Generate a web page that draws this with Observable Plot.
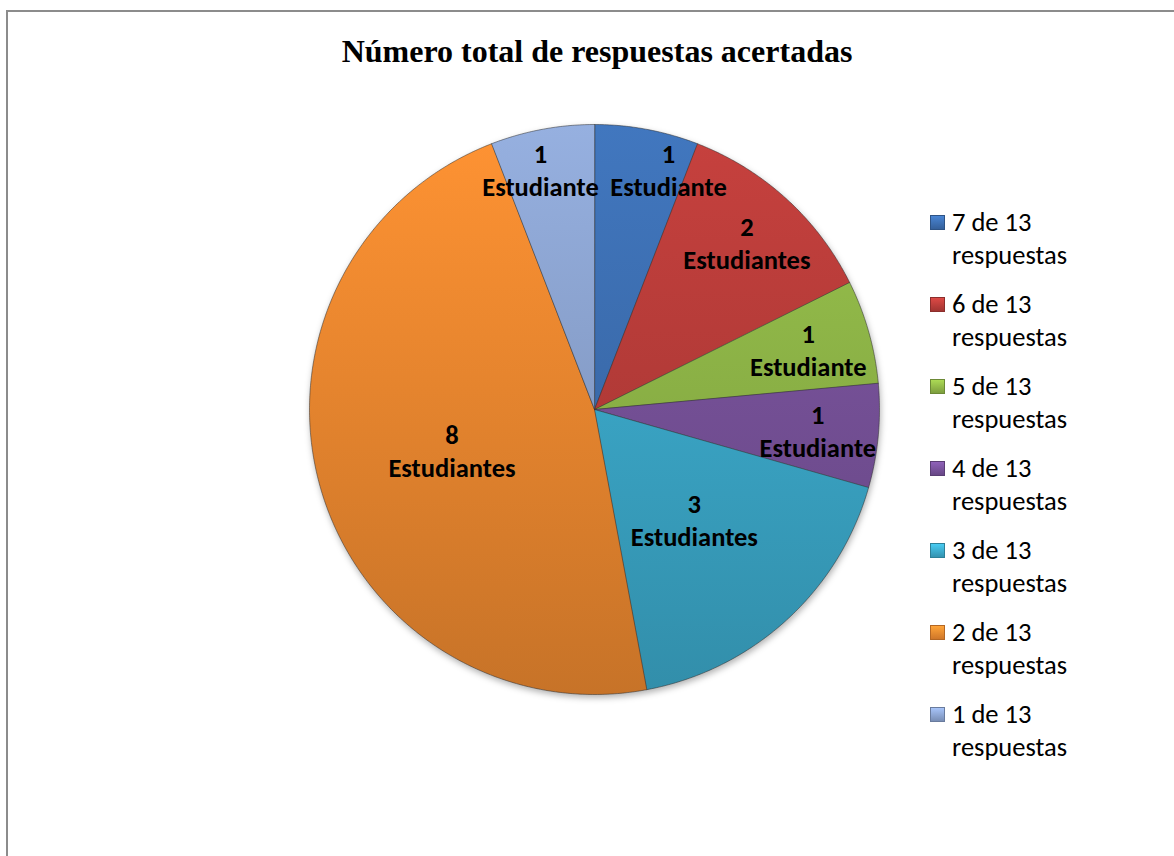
<!DOCTYPE html>
<html>
<head>
<meta charset="utf-8">
<script src="https://cdn.jsdelivr.net/npm/d3@7"></script>
<script src="https://cdn.jsdelivr.net/npm/@observablehq/plot@0.6"></script>
<style>
  html, body { margin: 0; padding: 0; background: #fff; overflow: hidden; }
  #wrap { position: relative; width: 1174px; height: 856px; overflow: hidden; }
  #frame { position: absolute; left: 6px; top: 10px; width: 1300px; height: 1000px;
           border-left: 2px solid #8c8c8c; border-top: 2px solid #8c8c8c; }
  #title { position: absolute; left: 0; top: 35px; width: 1194px; text-align: center;
           font-family: "Liberation Serif", "Times New Roman", serif; font-weight: bold;
           font-size: 32px; line-height: 32px; color: #000; }
  #chart { position: absolute; left: 0; top: 0; }
  #legend { position: absolute; left: 930px; top: 206px;
            font-family: Carlito, Calibri, Lato, sans-serif; font-size: 26.5px; color: #000; }
  .item { display: flex; align-items: flex-start; margin-bottom: 16px; }
  .sw { width: 15px; height: 15px; margin-top: 9px; margin-right: 7px; box-sizing: border-box; flex: none; }
  .txt { line-height: 33px; }
</style>
</head>
<body>
<div id="wrap">
  <div id="frame"></div>
  <div id="title">Número total de respuestas acertadas</div>
  <div id="chart"></div>
  <div id="legend"></div>
</div>
<svg width="0" height="0" style="position:absolute"><defs id="defs"></defs></svg>
<script>
// ---- data ----
const categories = ["7 de 13 respuestas", "6 de 13 respuestas", "5 de 13 respuestas",
                    "4 de 13 respuestas", "3 de 13 respuestas", "2 de 13 respuestas",
                    "1 de 13 respuestas"];
const students = [1, 2, 1, 1, 3, 8, 1];
const colors = ["#3f73b8", "#c03f3c", "#95bd4a", "#7c55a0", "#3eb0d2", "#f78e31", "#91aad8"];
const unitSingular = "Estudiante";
const unitPlural = "Estudiantes";

// ---- gradients ----
const defs = document.getElementById("defs");
const pieTop = 124, pieBottom = 694;
colors.forEach((c, i) => {
  const top = d3.color(c).brighter(0.1).formatHex();
  const bot = d3.color(c).darker(0.6).formatHex();
  defs.insertAdjacentHTML("beforeend",
    `<linearGradient id="g${i}" gradientUnits="userSpaceOnUse" x1="0" y1="${pieTop}" x2="0" y2="${pieBottom}">
       <stop offset="0" stop-color="${top}"/><stop offset="1" stop-color="${bot}"/></linearGradient>`);
});

// ---- pie geometry ----
const arcs = d3.pie().sort(null).value(d => d)(students);
const slicePts = [];
arcs.forEach((a, i) => {
  const key = categories[i];
  slicePts.push({key, x: 0, y: 0});
  const n = Math.max(4, Math.ceil((a.endAngle - a.startAngle) / (Math.PI / 360)));
  for (let k = 0; k <= n; k++) {
    const t = a.startAngle + (a.endAngle - a.startAngle) * k / n;
    slicePts.push({key, x: Math.sin(t), y: -Math.cos(t)});
  }
});

// label placement: big slices near the middle, small slices pushed to the inside end
const Rpx = 285;
const hw = 58 / Rpx, hh = 25 / Rpx;
const total = d3.sum(students);
const labelData = arcs.map((a, i) => {
  const v = students[i];
  const mid = (a.startAngle + a.endAngle) / 2;
  const s = Math.sin(mid), c = Math.cos(mid);
  let r;
  if (v / total > 0.15) r = 0.52;
  else {
    const b = Math.abs(s) * hw + Math.abs(c) * hh;
    const cc = hw * hw + hh * hh - 1;
    r = -b + Math.sqrt(b * b - cc);
  }
  let x = r * s, y = -r * c;
  // keep boxes from straddling the 12 o'clock line
  if (x - hw < 0 && x + hw > 0) x = x > 0 ? hw + 16 / Rpx : -hw + 4 / Rpx;
  return {x, y, text: `${v}\n${v === 1 ? unitSingular : unitPlural}`};
});

const chart = Plot.plot({
  width: 1174,
  height: 856,
  margin: 0,
  x: {domain: [-1, 1], range: [309, 879], axis: null},
  y: {domain: [-1, 1], range: [124, 694], axis: null},
  color: {domain: categories, range: categories.map((_, i) => `url(#g${i})`)},
  marks: [
    Plot.line(slicePts, {x: "x", y: "y", z: "key", fill: "key", stroke: "#2a2a2a",
                         strokeOpacity: 0.5, strokeWidth: 1, curve: "linear-closed"}),
    Plot.text(labelData, {x: "x", y: "y", text: "text", fontSize: 26.5, fontWeight: "bold",
                          lineHeight: 1.245, fill: "#000",
                          fontFamily: "Carlito, Calibri, Lato, sans-serif"})
  ]
});
d3.select(chart).select("g[aria-label=line]")
  .style("filter", "drop-shadow(1px 3px 3px rgba(0,0,0,0.3))");
document.getElementById("chart").appendChild(chart);

// ---- legend ----
const legend = d3.select("#legend");
categories.forEach((cat, i) => {
  const c = colors[i];
  const it = legend.append("div").attr("class", "item");
  it.append("div").attr("class", "sw")
    .style("background", `linear-gradient(${d3.color(c).brighter(0.4)}, ${d3.color(c).darker(0.5)})`)
    .style("border", `1px solid ${d3.color(c).darker(0.9)}`);
  const parts = cat.split(" ");
  it.append("div").attr("class", "txt").html(parts.slice(0, 3).join(" ") + "<br>" + parts.slice(3).join(" "));
});
</script>
</body>
</html>
